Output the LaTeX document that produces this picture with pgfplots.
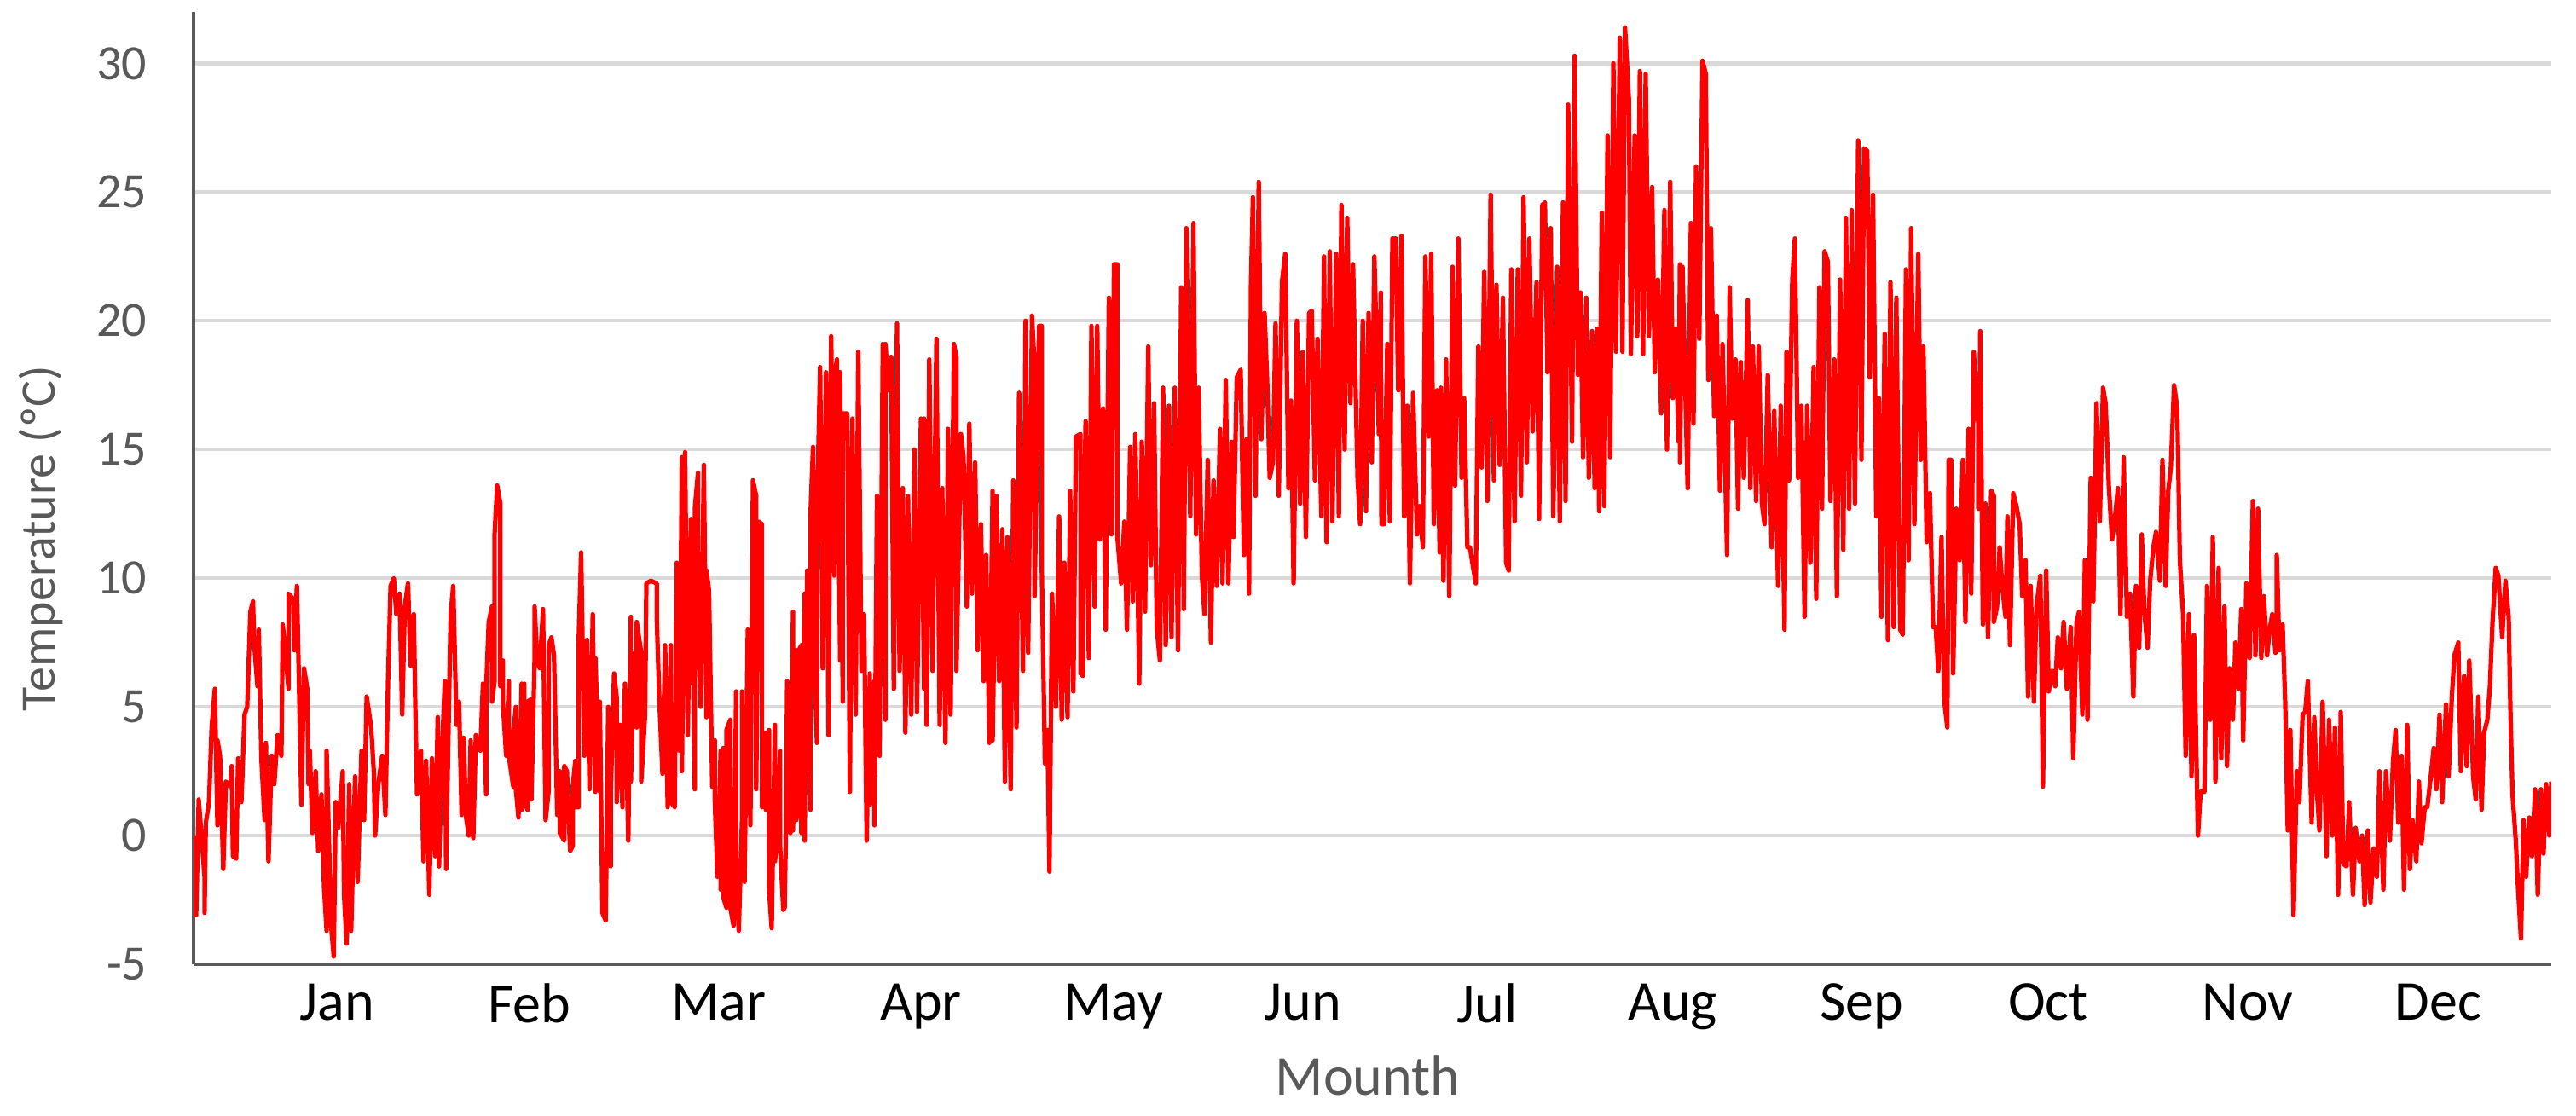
\documentclass[border=0pt]{standalone}
\usepackage{pgfplots}
\pgfplotsset{compat=1.18}
\usepackage{fontspec}
\setmainfont{Carlito}
\definecolor{axisgray}{HTML}{595959}
\definecolor{gridgray}{HTML}{D9D9D9}
\definecolor{tred}{HTML}{FF0000}

\begin{document}
\begin{tikzpicture}
\begin{axis}[
    scale only axis,
    width=691.25bp, height=279.25bp,
    xmin=0, xmax=365,
    ymin=-5, ymax=32,
    axis x line=bottom, axis y line=left,
    axis line style={-, draw=axisgray, line width=0.9bp},
    major tick length=0pt,
    ytick={-5,0,5,10,15,20,25,30},
    yticklabels={-5,0,5,10,15,20,25,30},
    xtick={22.2,52,81.3,112.6,142.4,171.7,200.3,229,258.2,287.1,318,347.5},
    xticklabels={Jan,Feb,Mar,Apr,May,Jun,Jul,Aug,Sep,Oct,Nov,Dec},
    ymajorgrids,
    grid style={draw=gridgray, line width=1.1bp},
    yticklabel style={font=\fontsize{14.5bp}{16bp}\selectfont, text=axisgray,
        anchor=east, inner sep=0pt, xshift=-13.5bp},
    xticklabel style={font=\fontsize{16.5bp}{18bp}\selectfont, text=black,
        anchor=north, inner sep=0pt, yshift=-5.5bp},
    ylabel={Temperature (ºC)},
    ylabel style={font=\fontsize{14.5bp}{16bp}\selectfont, text=axisgray,
        at={(axis description cs:-0.0647,0.447)}, anchor=center},
    xlabel={Mounth},
    xlabel style={font=\fontsize{16.5bp}{18bp}\selectfont, text=axisgray,
        at={(axis description cs:0.498,-0.1173)}, anchor=center},
]

% hourly temperature trace, read off as daily highs and lows
\addplot[color=tred, line width=1.3bp, line join=round, mark=none] coordinates {
(0.4,0) (0.4,-3.1) (0.8,1.4) (1.7,-1.6) (1.7,-3) (1.9,0.5) (2.4,1.3) (2.8,4.2) (3.3,5.7) (3.7,0.4) (3.7,3.7) (4.1,3.1) (4.6,-1.3) (5.0,2.1) (5.7,1.9) (5.9,2.7) (6.1,-0.8) (6.6,-0.9) (6.9,3) (7.4,1.3) (7.9,4.7) (8.3,5) (8.8,8.7) (9.2,9.1) (9.4,7.4) (9.9,5.8) (10.1,8) (10.5,3) (11.0,0.6) (11.2,3.6) (11.6,-1) (12.1,3.1) (12.5,2) (13.0,3.9) (13.6,3.1) (13.8,8.2) (14.3,6.9) (14.7,5.7) (14.7,9.4) (15.4,9.2) (15.6,7.2) (16.0,9.7) (16.5,3.7) (16.7,1.2) (17.1,6.5) (17.6,5.7) (17.8,2) (18.0,3.3) (18.4,0.1) (18.9,2.5) (19.3,-0.6) (19.8,1.6) (20.2,-2) (20.6,-3.7) (20.6,3.3) (21.3,-3.5) (21.7,-4.7) (22.0,1.3) (22.4,0.3) (23.1,2.5) (23.3,-2.3) (23.7,-4.2) (24.1,2) (24.4,-3.7) (25.0,2.3) (25.4,-1.8) (26.0,3.3) (26.4,0.6) (26.8,5.4) (27.5,4.2) (27.9,2.5) (28.1,0) (28.6,2) (29.2,3.1) (29.7,0.8) (30.1,5.9) (30.5,9.7) (31.0,10) (31.4,8.6) (31.9,9.4) (32.3,4.7) (32.7,8.9) (33.2,9.8) (33.6,6.6) (34.1,8.6) (34.3,5.4) (34.6,1.6) (35.2,3.3) (35.6,-1) (36.0,2.9) (36.5,-2.3) (36.9,3) (37.4,-0.8) (37.8,4.6) (38.0,-1.2) (38.5,3.5) (38.9,6) (39.1,-1.3) (39.3,1.8) (39.8,8.6) (40.2,9.7) (40.7,4.3) (41.1,5.2) (41.5,0.8) (41.8,3.8) (42.2,0.7) (42.6,0) (42.9,3.7) (43.3,-0.1) (43.7,3.9) (44.4,3.3) (44.8,5.9)
(45.3,1.6) (45.3,5.7) (45.7,8.3) (46.2,8.9) (46.2,5.2) (46.6,6) (46.6,11.7) (47.0,13.6) (47.5,12.9) (47.5,5.8) (47.9,6.8) (47.9,5.1) (48.4,3.1) (48.8,6) (48.8,3.1) (49.5,1.9) (49.5,4) (49.9,5) (49.9,1.8) (50.3,0.7) (50.8,5.9) (50.8,1) (51.2,5.9) (51.2,1.3) (51.7,1) (51.7,5.2) (52.3,5.3) (52.3,1.4) (52.8,6.9) (52.8,8.9) (53.2,6.8) (53.6,6.5) (54.1,8.8) (54.5,0.6) (55.0,1.8) (55.0,7.4) (55.4,7.7) (55.8,7) (56.3,0.8) (56.7,2.5) (56.7,0.1) (57.4,-0.2) (57.4,2.7) (57.8,2.5) (58.3,-0.6) (58.7,-0.4) (58.7,1.9) (59.1,2.9) (59.1,1.1) (59.6,1.1) (59.6,7.4) (60.0,11) (60.5,3.1) (60.5,5.2) (60.9,7.6) (61.3,1.8) (61.8,8.6) (62.2,1.7) (62.2,6.9) (62.9,1.7) (62.9,5.2) (63.3,-3) (63.8,-3.3) (64.2,5) (64.2,-1.1) (64.6,-1.2) (64.6,1.8) (65.1,6.3) (65.5,5.4) (65.5,1.3) (66.0,4.3) (66.4,1.1) (66.4,2.7) (66.8,5.9) (67.3,-0.2) (67.7,8.5) (67.7,2.1) (68.2,7.1) (68.6,4.2) (68.6,8.3) (69.3,7.1) (69.3,2.1) (69.9,4.7) (70.1,9.8) (70.8,9.9) (71.7,9.8) (71.7,8.5) (72.1,5.3) (72.6,2.4) (73.0,7.4) (73.4,1.1) (73.9,7.4) (73.9,1.3) (74.5,1.1) (74.8,10.6) (75.2,10) (75.2,3.3) (75.6,14.7) (75.6,2.5) (76.1,14.9) (76.5,3.9) (77.0,12.3) (77.6,1.8) (77.6,12.7) (78.1,14.1) (78.1,8.3) (78.5,5) (79.0,14.4) (79.4,4.6) (79.4,10.3) (79.8,9.5) (80.3,1.9) (80.7,3.7) (80.7,1.3) (81.1,-1.6) (81.6,3.3) (81.6,-2.1) (82.0,3.4) (82.0,-2.4) (82.5,-2.8) (82.5,4.1) (83.1,4.5) (83.1,-2.8) (83.6,-3.5) (84.0,5.6) (84.0,-1.3) (84.4,-3.7) (84.9,0.6) (84.9,5.6) (85.3,-1.8) (85.8,8) (86.2,0.4) (86.6,13.8) (87.1,13.2) (87.1,1.8) (87.5,12.2) (88.0,12.1) (88.0,1.1) (88.6,4) (88.6,1) (89.1,4.1) (89.1,-2.1) (89.5,-3.6) (90.0,4.3) (90.0,-1) (90.4,0.1) (90.8,3.3) (90.8,-0.4) (91.3,-2.9)
(91.5,-2.8) (91.7,0.1) (91.9,6) (92.4,3.7) (92.4,0.1) (92.8,8.7) (92.8,0.2) (93.3,7.2) (93.3,0.6) (93.7,1.2) (93.7,7.2) (94.1,7.4) (94.1,0.1) (94.6,9.4) (94.6,-0.2) (95.0,10.3) (95.5,1) (95.5,12.4) (95.9,15.1) (96.1,6.9) (96.5,3.6) (96.5,12.4) (97.0,18.2) (97.4,6.5) (97.9,18) (98.3,3.9) (98.7,19.4) (99.2,10.1) (99.2,17.8) (99.6,18.5) (100.1,6.8) (100.1,18) (100.5,5.2) (100.5,16.4) (101.2,16.4) (101.6,1.7) (102.0,16.2) (102.5,4.7) (102.9,18.8) (103.4,6.4) (103.8,8.6) (104.2,-0.2) (104.7,6.3) (104.7,1.2) (105.4,6) (105.4,0.4) (105.8,13.2) (106.2,3.1) (106.7,19.1) (107.1,4.5) (107.1,19.1) (107.6,17.3) (108.0,18.6) (108.4,5.7) (108.9,19.9) (109.3,6.4) (109.8,13.5) (110.2,4) (110.6,13.2) (111.1,4.7) (111.6,15) (112.0,4.8) (112.6,16.2) (113.1,5.7) (113.1,16.2) (113.5,4.3) (113.9,18.5) (114.4,6.4) (115.0,19.3) (115.5,4.3) (115.9,13.5) (116.4,3.6) (116.8,15.8) (117.2,4.7) (117.7,19.1) (118.1,18.6) (118.1,6.4) (118.8,15.6) (119.2,14.7) (119.7,8.9) (120.1,16) (120.5,9.4) (121.0,14.5) (121.4,7.2) (121.9,12.1) (122.3,6) (122.7,10.9) (123.2,3.6) (123.7,13.4) (123.7,3.7) (124.3,13.2) (124.7,6) (125.2,11.9) (125.6,2.1) (126.0,11.6) (126.5,1.8) (126.9,13.8) (127.4,4.2) (127.8,17.2) (128.4,6.4) (128.8,20) (129.2,7.1) (129.8,20.2) (130.2,18.2) (130.2,9.3) (130.9,19.8) (131.3,19.8) (131.3,10.6) (131.8,2.8) (132.2,4.1) (132.5,-1.4) (132.9,9.4) (133.5,5) (134.0,12.4) (134.4,4.5) (134.8,10.6) (135.3,4.6) (135.7,13.4) (136.2,5.6) (136.6,15.5) (137.3,15.6) (137.3,6.3)
(137.7,6.2) (137.7,9.3) (138.1,16.1) (138.6,6.9) (139.0,19.8) (139.5,8.9) (139.9,19.8) (140.3,11.5) (140.8,16.6) (141.2,8) (141.7,20.9) (142.1,11.7) (142.5,22.2) (143.0,22.2) (143.0,11.7) (143.6,9.8) (144.1,12.2) (144.5,8) (145.0,15.1) (145.4,9.1) (145.8,15.6) (146.4,5.9) (146.8,15.3) (147.3,8.7) (147.8,19) (148.2,10.5) (148.7,16.8) (149.1,8.1) (149.6,6.8) (150.1,17.4) (150.5,7.4) (151.0,16.7) (151.4,7.7) (151.9,17.4) (152.4,7.2) (152.9,21.3) (153.3,8.8) (153.7,23.6) (154.3,12.4) (154.8,23.8) (155.2,11.7) (155.6,17.4) (156.1,10.1) (156.5,8.6) (157.0,14.6) (157.5,7.5) (157.9,13.8) (158.4,9.7) (158.9,15.8) (159.3,9.8) (159.8,17.7) (160.2,9.8) (160.7,15.3) (161.0,11.6) (161.5,17.8) (162.1,18.1) (162.6,10.9) (163.0,15.4) (163.4,9.4) (163.7,21.4) (164.0,24.8) (164.4,13.2) (164.9,25.4) (165.3,15.4) (165.8,20.3) (166.2,17.7) (166.6,13.9) (167.1,14.5) (167.5,19.9) (168.0,13.2) (168.5,21.5) (169.0,22.6) (169.5,13.5) (169.9,16.9) (170.3,9.8) (170.8,20) (171.3,12.9) (171.7,18.8) (172.2,11.6) (172.7,20.3) (173.1,20.4) (173.6,13.8) (174.0,19.3) (174.6,12.4) (175.0,22.5) (175.4,11.4) (175.9,22.7) (176.3,12.2) (176.9,22.6) (177.3,12.4) (177.7,24.5) (178.2,15) (178.6,24) (179.1,16.8) (179.5,22.2) (180.2,13.9) (180.6,12.1) (181.0,20) (181.5,12.6) (181.9,20.3) (182.4,14.5) (182.8,22.5) (183.5,15.6) (183.8,21.1)
(183.9,12.1) (184.3,12.1) (184.8,19.1) (185.2,12.2) (185.6,23.2) (186.1,23.2) (186.5,17.3) (187.0,23.3) (187.4,12.4) (187.9,16.7) (188.3,9.8) (188.8,17.2) (189.4,11.7) (189.8,12.8) (190.3,11.2) (190.7,22.5) (191.2,15.5) (191.6,22.6) (192.0,12.1) (192.5,17.3) (192.9,11) (193.1,17.4) (193.5,9.9) (193.9,18.5) (194.4,9.3) (194.9,22.1) (195.3,13.6) (195.8,23.2) (196.3,13.9) (196.7,17) (197.2,11.2) (197.6,11.2) (198.1,10.4) (198.5,9.8) (198.9,19) (199.4,14.3) (199.8,21.9) (200.3,13) (200.8,24.9) (201.3,13.8) (201.7,21.4) (202.2,14.4) (202.7,20.9) (203.2,10.6) (203.6,10.3) (204.0,22) (204.5,12.2) (205.0,22) (205.5,13.2) (205.9,24.8) (206.4,14.5) (206.8,23.2) (207.3,15.7) (207.9,21.5) (208.3,12.3) (208.8,24.5) (209.2,24.6) (209.6,18) (210.1,23.6) (210.5,12.4) (211.1,22.1) (211.5,12.2) (212.0,24.6) (212.4,13) (212.8,28.4) (213.4,15.3) (213.8,30.3) (214.3,17.9) (214.7,21.1) (215.1,14.7) (215.6,20.9) (216.0,13.9) (216.5,19.6) (216.9,13.5) (217.3,19.7) (217.6,12.6) (218.0,24.2) (218.4,12.8) (218.9,27.2) (219.3,14.7) (219.8,30) (220.2,18.8) (220.8,31) (221.2,18.8) (221.6,31.4) (222.2,28.6) (222.5,18.7) (223.1,27.2) (223.5,19.4) (223.9,29.7) (224.4,18.7) (224.8,29.6) (225.3,19.4) (225.8,25.2) (226.2,18) (226.7,21.6) (227.2,16.4) (227.7,24.3) (228.1,15) (228.6,25.4) (229.0,17) (229.4,19.7) (229.9,15.3)
(230.1,22.2) (230.1,14.5) (230.5,22.1) (231.0,16.8) (231.3,13.5) (231.8,23.8) (232.2,16) (232.6,26) (233.1,19.3) (233.6,30.1) (234.1,29.6) (234.5,17.7) (234.9,23.6) (235.4,16.3) (235.8,20.2) (236.3,13.4) (236.7,19.1) (237.4,10.9) (237.8,21.3) (238.2,16.2) (238.7,18.5) (239.1,12.7) (239.5,18.4) (240.0,13.9) (240.6,20.8) (241.0,13.5) (241.4,19) (241.9,13) (242.3,19) (242.8,12.9) (243.2,12.1) (243.7,17.9) (244.3,11.2) (244.7,16.5) (245.3,9.7) (245.7,16.7) (246.3,8) (246.6,18.8) (247.0,13.8) (247.5,21.6) (247.9,23.2) (248.4,13.9) (248.9,16.7) (249.4,8.5) (249.8,16.7) (250.3,10.6) (250.8,18.2) (251.2,9.2) (251.7,21.3) (252.1,12.7) (252.5,22.7) (253.0,22.3) (253.4,13) (254.0,18.5) (254.4,9.3) (254.9,21.6) (255.4,11.1) (255.8,24) (256.3,12.7) (256.7,24.3) (257.2,12.9) (257.7,27) (258.2,14.6) (258.6,26.7) (259.1,26.6) (259.5,17.8) (260.0,24.9) (260.5,12.4) (260.9,17) (261.3,8.5) (261.8,19.5) (262.3,7.6) (262.7,21.5) (263.2,8.1) (263.6,20.9) (264.2,8) (264.6,7.8) (265.1,22) (265.5,10.7) (265.9,23.6) (266.4,12.1) (267.0,22.6) (267.4,14.6) (267.8,19) (268.3,11.4) (268.8,13.3) (269.3,8.1) (269.7,8.1) (270.1,6.4) (270.6,11.6) (271.0,5.3) (271.5,4.2) (271.7,14.6) (272.1,14.6) (272.4,6.3) (272.9,12.7) (273.4,10.7) (273.9,14.6) (274.3,8.3) (274.8,15.8) (275.2,9.4) (275.6,18.8) (276.1,16.2)
(276.3,16.1) (276.3,12.7) (276.6,19.6) (277.0,8.2) (277.4,12.9) (277.8,7.7) (278.3,13.4) (278.7,13.2) (278.7,8.3) (279.2,8.9) (279.6,11.2) (280.0,9.7) (280.5,8.5) (280.8,12.4) (281.2,7.4) (281.7,13.3) (282.2,12.8) (282.7,12.1) (283.1,9.3) (283.6,10.7) (284.0,5.4) (284.4,9.7) (284.9,5.2) (285.3,8.9) (285.9,10.1) (286.3,1.9) (286.8,10.3) (287.2,5.6) (287.7,6.4) (288.2,5.8) (288.6,7.7) (289.1,6.5) (289.5,8.3) (290.0,5.7) (290.6,8.1) (291.0,3) (291.5,8.3) (291.9,8.7) (292.4,4.7) (292.8,10.7) (293.2,4.5) (293.7,13.9) (294.1,9.1) (294.6,16.8) (295.1,12.2) (295.6,17.4) (296.0,16.8) (296.5,13.6) (297.0,11.5) (297.4,12.2) (297.9,13.5) (298.3,8.6) (298.8,14.7) (299.3,8.5) (299.8,9.4) (300.3,5.4) (300.7,9.7) (301.2,7.3) (301.6,11.7) (302.0,8.7) (302.5,7.3) (302.9,9.9) (303.4,11.2) (303.8,11.8) (304.4,9.9) (304.8,14.6) (305.3,9.7) (305.7,13.4) (306.1,14.3) (306.6,17.5) (307.1,16.6) (307.5,10.7) (308.0,8.6) (308.4,3.1) (308.9,8.6) (309.3,2.3) (309.7,7.8) (310.3,0) (310.7,1.7) (311.3,1.7) (311.7,9.7) (312.2,4.5) (312.6,11.6) (313.0,2.1) (313.5,10.4) (313.9,3) (314.4,8.9) (314.8,2.7) (315.2,6.5) (315.7,4.5) (316.1,7.5) (316.6,5.7) (317.0,8.8) (317.3,3.7) (317.8,9.8) (318.3,6.9) (318.8,13) (319.2,7) (319.6,12.7) (320.1,6.9) (320.5,9.3) (321.0,7) (321.4,8) (321.8,8.6) (322.3,7.1)
(322.5,7.4) (322.5,10.9) (322.9,7.2) (323.4,8.2) (323.8,5.2) (324.2,0.2) (324.6,4.1) (325.1,-3.1) (325.6,2.5) (326.0,1.3) (326.5,4.7) (326.9,4.8) (327.3,6) (327.9,0.5) (328.3,4.6) (328.7,1.8) (329.1,0.2) (329.6,5.2) (330.2,-0.8) (330.6,4.5) (331.1,0) (331.5,4.2) (332.0,-2.3) (332.4,4.8) (332.8,-1.1) (333.3,-1.2) (333.7,1.3) (334.3,-2.3) (334.7,0.3) (335.3,-1) (335.7,0) (336.1,-2.7) (336.6,0.2) (337.0,-2.6) (337.5,-0.5) (338.0,-1.6) (338.4,2.5) (339.0,-2.1) (339.4,2.5) (340.0,-0.2) (340.5,2.9) (340.9,4.1) (341.3,0.5) (341.8,3.1) (342.2,-2.1) (342.7,4.3) (343.1,-1.3) (343.5,0.6) (344.1,-1) (344.5,2.1) (344.9,-0.3) (345.4,1.1) (345.8,1.1) (346.3,2.2) (346.8,3.4) (347.2,1.8) (347.7,4.7) (348.1,1.3) (348.7,5.1) (349.1,2.3) (349.6,5.4) (350.0,7) (350.6,7.5) (351.0,2.5) (351.5,6.2) (351.9,2.7) (352.3,6.8) (352.9,2.3) (353.3,1.4) (353.7,5.4) (354.2,1) (354.6,4) (355.1,4.5) (355.5,5.8) (355.9,8.3) (356.4,10.4) (356.8,10.1) (357.4,7.7) (357.9,9.9) (358.4,8.5) (358.7,4.5) (359.0,1.6) (359.5,-0.2) (359.8,-1.8) (360.3,-4) (360.7,0.6) (361.1,-1.6) (361.6,0.7) (362.0,-0.8) (362.5,1.8) (362.9,-2.3) (363.4,1.8) (363.8,-0.7) (364.2,2) (364.7,0) (365.0,2.1)
};

\end{axis}
\pgfresetboundingbox
\path ([xshift=-56.75bp,yshift=-44.5bp]current axis.south west)
    rectangle ([xshift=7.25bp,yshift=3.5bp]current axis.north east);
\end{tikzpicture}
\end{document}
